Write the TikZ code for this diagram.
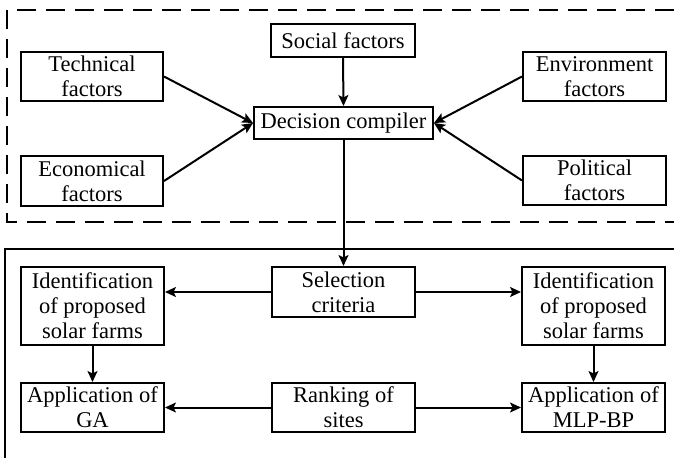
\documentclass[tikz,border=0pt]{standalone}
\usepackage{fontspec}
\setmainfont{Liberation Serif}
\usetikzlibrary{arrows.meta}
\begin{document}
\begin{tikzpicture}[x=1pt,y=-1pt,
  box/.style={draw,line width=2pt,rectangle,inner sep=0pt,align=center,
    font=\fontsize{22.5}{25}\selectfont},
  arr/.style={line width=2pt,-{Stealth[length=11pt,width=10pt,inset=2.5pt]}},
  ]
\useasboundingbox (0,0) rectangle (674,458);
\fill[white] (0,0) rectangle (674,458);
% outer frames
\draw[line width=2.6pt,dash pattern=on 19pt off 10pt] (674,10) -- (7,10) -- (7,222) -- (674,222);
\draw[line width=2pt] (674,249) -- (5,249) -- (5,458);
% nodes
\node[box,minimum width=142,minimum height=49] (tech) at (92,76.5) {Technical\\factors};
\node[box,minimum width=142,minimum height=50] (econ) at (92,181) {Economical\\factors};
\node[box,minimum width=144,minimum height=33] (soc) at (343,40.5) {Social factors};
\node[box,minimum width=179,minimum height=32] (dec) at (343.5,123) {Decision compiler};
\node[box,minimum width=143,minimum height=49] (env) at (594.5,76.5) {Environment\\factors};
\node[box,minimum width=143,minimum height=49] (pol) at (594.5,180.5) {Political\\factors};
\node[box,minimum width=143,minimum height=50] (sel) at (343.5,292) {Selection\\criteria};
\node[box,minimum width=143,minimum height=49] (rank) at (343.5,407.5) {Ranking of\\sites};
\node[box,minimum width=143,minimum height=78] (idl) at (92.5,306) {Identification\\of proposed\\solar farms};
\node[box,minimum width=143,minimum height=49] (ga) at (92.5,407.5) {Application of\\GA};
\node[box,minimum width=143,minimum height=78] (idr) at (593.5,306) {Identification\\of proposed\\solar farms};
\node[box,minimum width=143,minimum height=49] (mlp) at (593.5,407.5) {Application of\\MLP-BP};
% connectors
\draw[arr] (tech.east) -- (dec.west);
\draw[arr] (econ.east) -- (dec.west);
\draw[arr] (env.west) -- (dec.east);
\draw[arr] (pol.west) -- (dec.east);
\draw[arr] (soc.south) -- (dec.north);
\draw[arr] (dec.south) -- (sel.north);
\draw[arr] (sel.west) -- (sel.west -| idl.east);
\draw[arr] (sel.east) -- (sel.east -| idr.west);
\draw[arr] (rank.west) -- (ga.east);
\draw[arr] (rank.east) -- (mlp.west);
\draw[arr] (idl.south) -- (ga.north);
\draw[arr] (idr.south) -- (mlp.north);
\end{tikzpicture}
\end{document}
